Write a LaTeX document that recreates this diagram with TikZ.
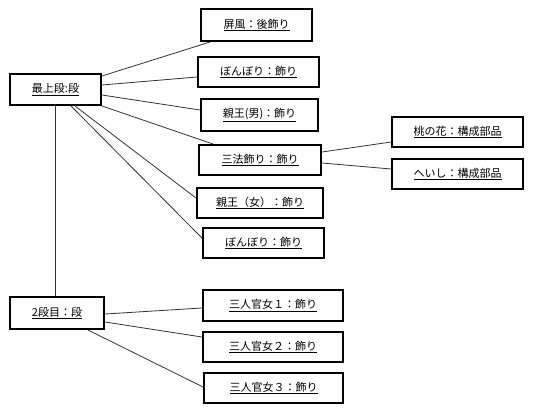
\documentclass[tikz,border=0pt]{standalone}
\usepackage{fontspec}
\setmainfont{Noto Sans CJK JP}
\begin{document}
\begin{tikzpicture}[x=1pt,y=-1pt,
  obj/.style={draw=black,line width=2pt,fill=white,inner sep=0pt,font=\fontsize{11}{13}\selectfont},
  link/.style={draw=black!80,line width=0.8pt}]
\useasboundingbox (0,0) rectangle (535,413);
\node[obj,minimum width=91pt,minimum height=31pt] (A) at (55.5,89.5) {\underline{最上段:段}};
\node[obj,minimum width=111pt,minimum height=32pt] (B) at (256.5,25) {\underline{屏風：後飾り}};
\node[obj,minimum width=121pt,minimum height=30pt] (C) at (258.5,72) {\underline{ぼんぼり：飾り}};
\node[obj,minimum width=117pt,minimum height=32pt] (D) at (259.5,115) {\underline{親王(男)：飾り}};
\node[obj,minimum width=122pt,minimum height=30pt] (E) at (260,160) {\underline{三法飾り：飾り}};
\node[obj,minimum width=131pt,minimum height=30pt] (F) at (457.5,132) {\underline{桃の花：構成部品}};
\node[obj,minimum width=131pt,minimum height=30pt] (G) at (457.5,174) {\underline{へいし：構成部品}};
\node[obj,minimum width=126pt,minimum height=30pt] (H) at (260,203) {\underline{親王（女）：飾り}};
\node[obj,minimum width=121pt,minimum height=30pt] (I) at (263.5,243) {\underline{ぼんぼり：飾り}};
\node[obj,minimum width=94pt,minimum height=32pt] (J) at (57,313) {\underline{2段目：段}};
\node[obj,minimum width=140pt,minimum height=31pt] (K) at (273,305.5) {\underline{三人官女１：飾り}};
\node[obj,minimum width=140pt,minimum height=30pt] (L) at (273,347) {\underline{三人官女２：飾り}};
\node[obj,minimum width=139pt,minimum height=30pt] (M) at (273.5,388) {\underline{三人官女３：飾り}};
\draw[link] ([yshift=13.5pt]A.east) -- ([xshift=-46.5pt]B.south);
\draw[link] ([yshift=4.5pt]A.east) -- ([yshift=-5pt]C.west);
\draw[link] ([yshift=-5.5pt]A.east) -- ([yshift=5pt]D.west);
\draw[link] (A.south east) -- ([xshift=-47pt]E.north);
\draw[link] ([xshift=19.5pt]A.south) -- ([yshift=5pt]H.west);
\draw[link] ([xshift=15.5pt]A.south) -- ([yshift=5pt]I.west);
\draw[link] (A.south) -- (A.south |- J.north);
\draw[link] ([yshift=8pt]E.east) -- ([yshift=-10pt]F.west);
\draw[link] ([yshift=-3pt]E.east) -- ([yshift=5pt]G.west);
\draw[link] ([yshift=-1pt]J.east) -- ([yshift=-2.5pt]K.west);
\draw[link] ([yshift=-9pt]J.east) -- ([yshift=10pt]L.west);
\draw[link] ([xshift=31pt]J.south) -- ([yshift=1pt]M.west);
\end{tikzpicture}
\end{document}
